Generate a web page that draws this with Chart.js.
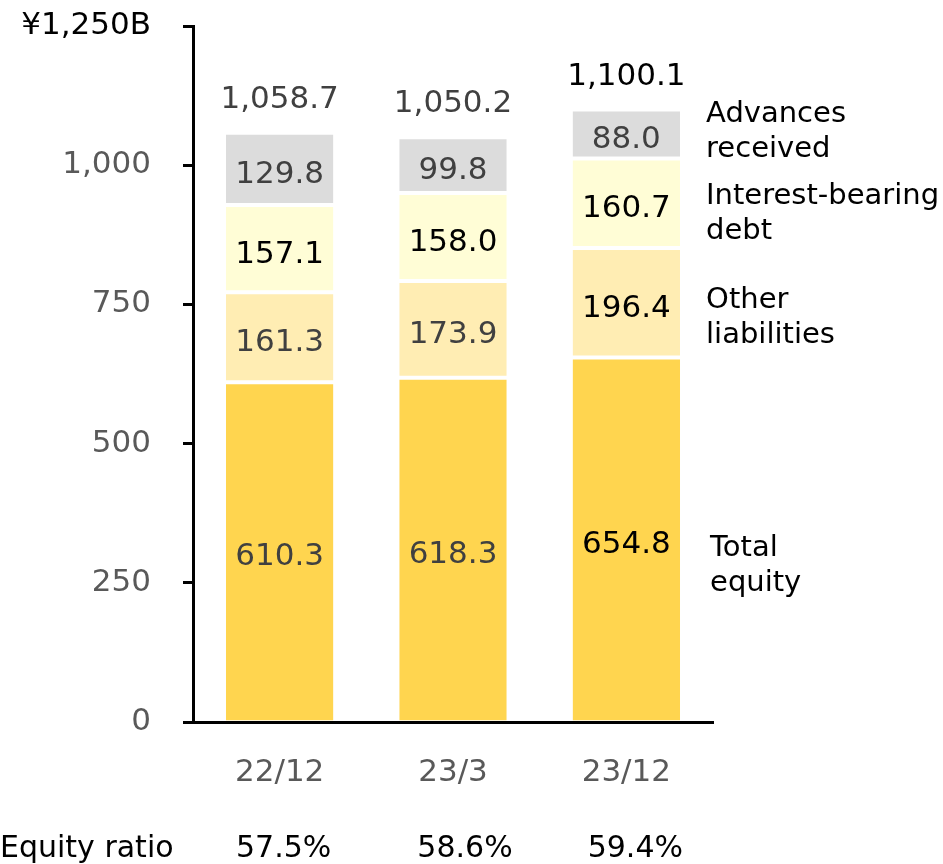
<!DOCTYPE html>
<html>
<head>
<meta charset="utf-8">
<script src="https://cdn.jsdelivr.net/npm/chart.js@4"></script>
<style>
  html, body { margin: 0; padding: 0; background: #fff; }
  #wrap { width: 943px; height: 864px; }
</style>
</head>
<body>
<div id="wrap"><canvas id="chart" width="943" height="864"></canvas></div>
<script>
// Data (¥ billions)
const periods = ['22/12', '23/3', '23/12'];
const totalEquity = [610.3, 618.3, 654.8];
const otherLiabilities = [161.3, 173.9, 196.4];
const interestDebt = [157.1, 158.0, 160.7];
const advancesReceived = [129.8, 99.8, 88.0];
const totals = ['1,058.7', '1,050.2', '1,100.1'];
const equityRatio = ['57.5%', '58.6%', '59.4%'];
const yTicks = [0, 250, 500, 750, 1000, 1250];

const FONT = '"DejaVu Sans", Verdana, sans-serif';
const GRAY = '#404040';
const BLACK = '#000000';

// label colour per segment per period
const segColors = [
  [GRAY, GRAY, BLACK],   // equity
  [GRAY, GRAY, BLACK],   // other liabilities
  [BLACK, BLACK, BLACK], // interest-bearing debt
  [GRAY, GRAY, GRAY]     // advances received
];
const totalColors = [GRAY, GRAY, BLACK];
const ratioShift = [4, 12, 9]; // the ratio row sits a bit right of the bars

const sideLabels = [
  { lines: ['Total', 'equity'], ds: 0, dy: 27, dx: 30 },
  { lines: ['Other', 'liabilities'], ds: 1, dy: 15, dx: 26 },
  { lines: ['Interest-bearing', 'debt'], ds: 2, dy: 10, dx: 26 },
  { lines: ['Advances', 'received'], ds: 3, dy: -3, dx: 26 }
];

function segment(label, data, color, bottom) {
  return {
    label: label,
    data: data,
    backgroundColor: color,
    borderColor: '#ffffff',
    borderWidth: { top: 2, bottom: bottom, left: 0, right: 0 },
    borderSkipped: false,
    categoryPercentage: 0.62,
    barPercentage: 1.0
  };
}

const labelPlugin = {
  id: 'labels',
  afterDatasetsDraw(chart) {
    const ctx = chart.ctx;
    ctx.save();
    ctx.textAlign = 'center';
    ctx.textBaseline = 'middle';
    ctx.font = '31px ' + FONT;
    chart.data.datasets.forEach((ds, i) => {
      const meta = chart.getDatasetMeta(i);
      meta.data.forEach((bar, j) => {
        const mid = (bar.y + bar.base) / 2 + 6;
        ctx.fillStyle = segColors[i][j];
        ctx.fillText(ds.data[j].toFixed(1), bar.x, mid);
      });
    });
    // totals above bars
    const top = chart.getDatasetMeta(chart.data.datasets.length - 1);
    top.data.forEach((bar, j) => {
      ctx.fillStyle = totalColors[j];
      ctx.fillText(totals[j], bar.x, bar.y - 33);
    });
    // side labels next to the last bar
    ctx.textAlign = 'left';
    ctx.font = '29px ' + FONT;
    ctx.fillStyle = BLACK;
    sideLabels.forEach(s => {
      const bar = chart.getDatasetMeta(s.ds).data[periods.length - 1];
      const mid = (bar.y + bar.base) / 2 + s.dy;
      const x = bar.x + bar.width / 2 + s.dx;
      ctx.fillText(s.lines[0], x, mid - 17);
      ctx.fillText(s.lines[1], x, mid + 18);
    });
    // equity ratio row
    ctx.font = '30px ' + FONT;
    ctx.fillText('Equity ratio', 0, 849);
    ctx.textAlign = 'center';
    const eq = chart.getDatasetMeta(0);
    eq.data.forEach((bar, j) => {
      ctx.fillText(equityRatio[j], bar.x + ratioShift[j], 849);
    });
    ctx.restore();
  }
};

new Chart(document.getElementById('chart'), {
  type: 'bar',
  data: {
    labels: periods,
    datasets: [
      segment('Total equity', totalEquity, '#FFD54F', 0),
      segment('Other liabilities', otherLiabilities, '#FFEDB3', 2),
      segment('Interest-bearing debt', interestDebt, '#FFFDD6', 2),
      segment('Advances received', advancesReceived, '#DCDCDC', 2)
    ]
  },
  options: {
    responsive: false,
    animation: false,
    layout: { padding: { top: 26, right: 230, bottom: 0, left: 0 } },
    plugins: {
      legend: { display: false },
      tooltip: { enabled: false }
    },
    scales: {
      x: {
        stacked: true,
        grid: { display: false, drawTicks: false },
        border: { display: true, color: '#000', width: 3 },
        ticks: {
          color: '#595959',
          font: { family: FONT, size: 31 },
          padding: 32
        },
        afterFit(axis) { axis.height = 142; axis.paddingLeft = 0; axis.paddingRight = 0; }
      },
      y: {
        stacked: true,
        min: 0,
        max: 1250,
        afterBuildTicks(axis) { axis.ticks = yTicks.map(v => ({ value: v })); },
        grid: {
          drawOnChartArea: false,
          drawTicks: true,
          tickLength: 10,
          color: '#000',
          lineWidth: 3
        },
        border: { display: true, color: '#000', width: 3 },
        ticks: {
          padding: 32,
          font: { family: FONT, size: 31 },
          color: ctx => ctx.tick && ctx.tick.value === 1250 ? '#000' : '#595959',
          callback: v => v === 1250 ? '¥1,250B' : v.toLocaleString('en-US')
        },
        afterFit(axis) { axis.width = 193; axis.paddingTop = 0; axis.paddingBottom = 0; }
      }
    }
  },
  plugins: [labelPlugin]
});
</script>
</body>
</html>
